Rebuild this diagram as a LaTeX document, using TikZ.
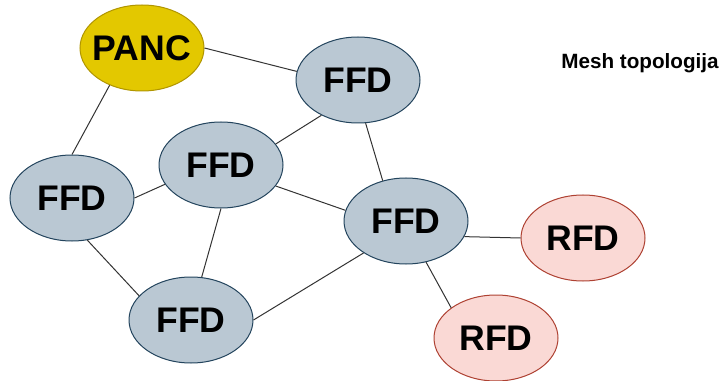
\documentclass[tikz,border=0pt]{standalone}
\usepackage{fontspec}
\setmainfont{Liberation Sans}
\usetikzlibrary{shapes.geometric}

\definecolor{pancfill}{RGB}{227,200,0}
\definecolor{pancline}{RGB}{176,149,0}
\definecolor{ffdfill}{RGB}{186,200,211}
\definecolor{ffdline}{RGB}{35,68,93}
\definecolor{rfdfill}{RGB}{250,217,213}
\definecolor{rfdline}{RGB}{174,65,50}

\tikzset{every picture/.style={line width=0.75pt}}
\tikzset{
  dev/.style={ellipse, minimum width=93pt, minimum height=64.5pt, inner xsep=-15pt, inner ysep=0pt,
    font=\fontsize{26.7}{32}\selectfont\bfseries},
  panc/.style={dev, draw=pancline, fill=pancfill},
  ffd/.style={dev, draw=ffdline, fill=ffdfill},
  rfd/.style={dev, draw=rfdline, fill=rfdfill},
  link/.style={draw={rgb,255:red,51;green,51;blue,51}, line width=0.75pt}
}

\begin{document}
\begin{tikzpicture}[x=0.75pt,y=0.75pt,yscale=-1,xscale=1]
	\useasboundingbox (0,0) rectangle (721,381);

	% Devices
	\node [panc] (panc) at (142,48) {PANC};
	\node [ffd] (ffdtop) at (358,80) {FFD};
	\node [ffd] (ffdmid) at (221,165) {FFD};
	\node [ffd] (ffdleft) at (72,198) {FFD};
	\node [ffd] (ffdhub) at (406,221) {FFD};
	\node [ffd] (ffdbot) at (191,320) {FFD};
	\node [rfd] (rfdright) at (583,238) {RFD};
	\node [rfd] (rfdbot) at (496,338) {RFD};

	% Title
	\node [font=\fontsize{15.5}{18}\selectfont\bfseries] (title) at (640,63) {Mesh topologija};

	% Links
	\path [link] (panc.0) -- (ffdtop.172);
	\path [link] (panc.229) -- (ffdleft.90);
	\path [link] (ffdtop.224) -- (ffdmid.21);
	\path [link] (ffdtop.280) -- (ffdhub.120);
	\path [link] (ffdmid.199) -- (ffdleft.0);
	\path [link] (ffdmid.339) -- (ffdhub.170);
	\path [link] (ffdmid.270) -- (ffdbot.76);
	\path [link] (ffdleft.290) -- (ffdbot.155);
	\path [link] (ffdhub.217) -- (ffdbot.0);
	\path [link] (ffdhub.345) -- (rfdright.180);
	\path [link] (ffdhub.296) -- (rfdbot.146);

\end{tikzpicture}
\end{document}
